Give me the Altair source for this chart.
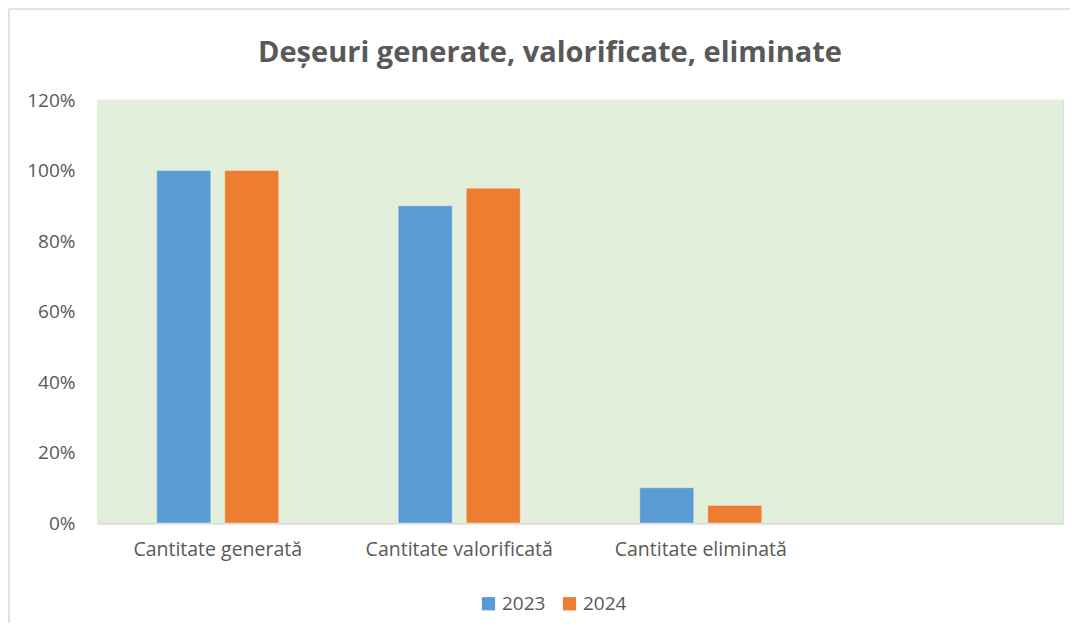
import altair as alt
import pandas as pd

categories = ["Cantitate generată", "Cantitate valorificată", "Cantitate eliminată"]
domain_categories = categories + [" "]
years = ["2023", "2024"]
values_2023 = [1.00, 0.90, 0.10]
values_2024 = [1.00, 0.95, 0.05]
colors = ["#5b9bd5", "#ed7d31"]
y_ticks = [0, 0.2, 0.4, 0.6, 0.8, 1.0, 1.2]
title_text = "Deșeuri generate, valorificate, eliminate"

rows = []
for c, v in zip(categories, values_2023):
    rows.append({"cat": c, "year": "2023", "val": v})
for c, v in zip(categories, values_2024):
    rows.append({"cat": c, "year": "2024", "val": v})
df = pd.DataFrame(rows)

W, H = 966, 423
FONT = "Open Sans"
GRAY = "#595959"
one = pd.DataFrame({"a": [0]})

bg = alt.Chart(one).mark_rect(fill="#e2efda").encode(
    x=alt.value(0), x2=alt.value(W), y=alt.value(0), y2=alt.value(H)
)

bars = alt.Chart(df).mark_bar(stroke="white", strokeWidth=1, strokeOpacity=0.35).encode(
    x=alt.X("cat:N", sort=domain_categories,
            scale=alt.Scale(domain=domain_categories, paddingInner=0, paddingOuter=0),
            axis=alt.Axis(title=None, labelAngle=0, labelFontSize=19.5, labelColor=GRAY,
                          labelFont=FONT, labelPadding=17, labelLimit=400, ticks=False,
                          domainColor="#d9d9d9", domainWidth=2, grid=False)),
    xOffset=alt.XOffset("year:N", scale=alt.Scale(paddingInner=0.206, paddingOuter=0.879)),
    y=alt.Y("val:Q", scale=alt.Scale(domain=[0, 1.2], nice=False),
            axis=alt.Axis(title=None, values=y_ticks, format=".0%", labelFontSize=19,
                          labelColor=GRAY, labelFont=FONT, labelPadding=22, ticks=False,
                          domain=False, gridColor="#d9d9d9", gridWidth=1.5)),
    color=alt.Color("year:N", scale=alt.Scale(domain=years, range=colors),
                    legend=alt.Legend(title=None, orient="none", direction="horizontal",
                                      legendX=382, legendY=494, symbolType="square",
                                      symbolSize=175, symbolStrokeWidth=0,
                                      labelFontSize=19, labelColor=GRAY, labelFont=FONT,
                                      columnPadding=14, labelOffset=4)),
)

title = alt.Chart(one).mark_text(text=title_text, fontSize=29, font=FONT, fontWeight="bold",
                                 color=GRAY, align="center", baseline="alphabetic").encode(
    x=alt.value(453), y=alt.value(-38)
)

border = alt.Chart(one).mark_rule(color="#d9d9d9", strokeWidth=1.5).encode(
    x=alt.value(-88), y=alt.value(-91), y2=alt.value(540)
)
border_top = alt.Chart(one).mark_rule(color="#d9d9d9", strokeWidth=1.5).encode(
    x=alt.value(-88), x2=alt.value(975), y=alt.value(-91)
)

chart = alt.layer(bg, bars, title, border, border_top).properties(
    width=W, height=H,
    autosize=alt.AutoSizeParams(type="none"),
    padding={"left": 89, "top": 92, "right": 7, "bottom": 100},
).configure_view(strokeWidth=0).configure(background="white")

chart.save("out.html", embed_options={"renderer": "svg", "actions": False})
